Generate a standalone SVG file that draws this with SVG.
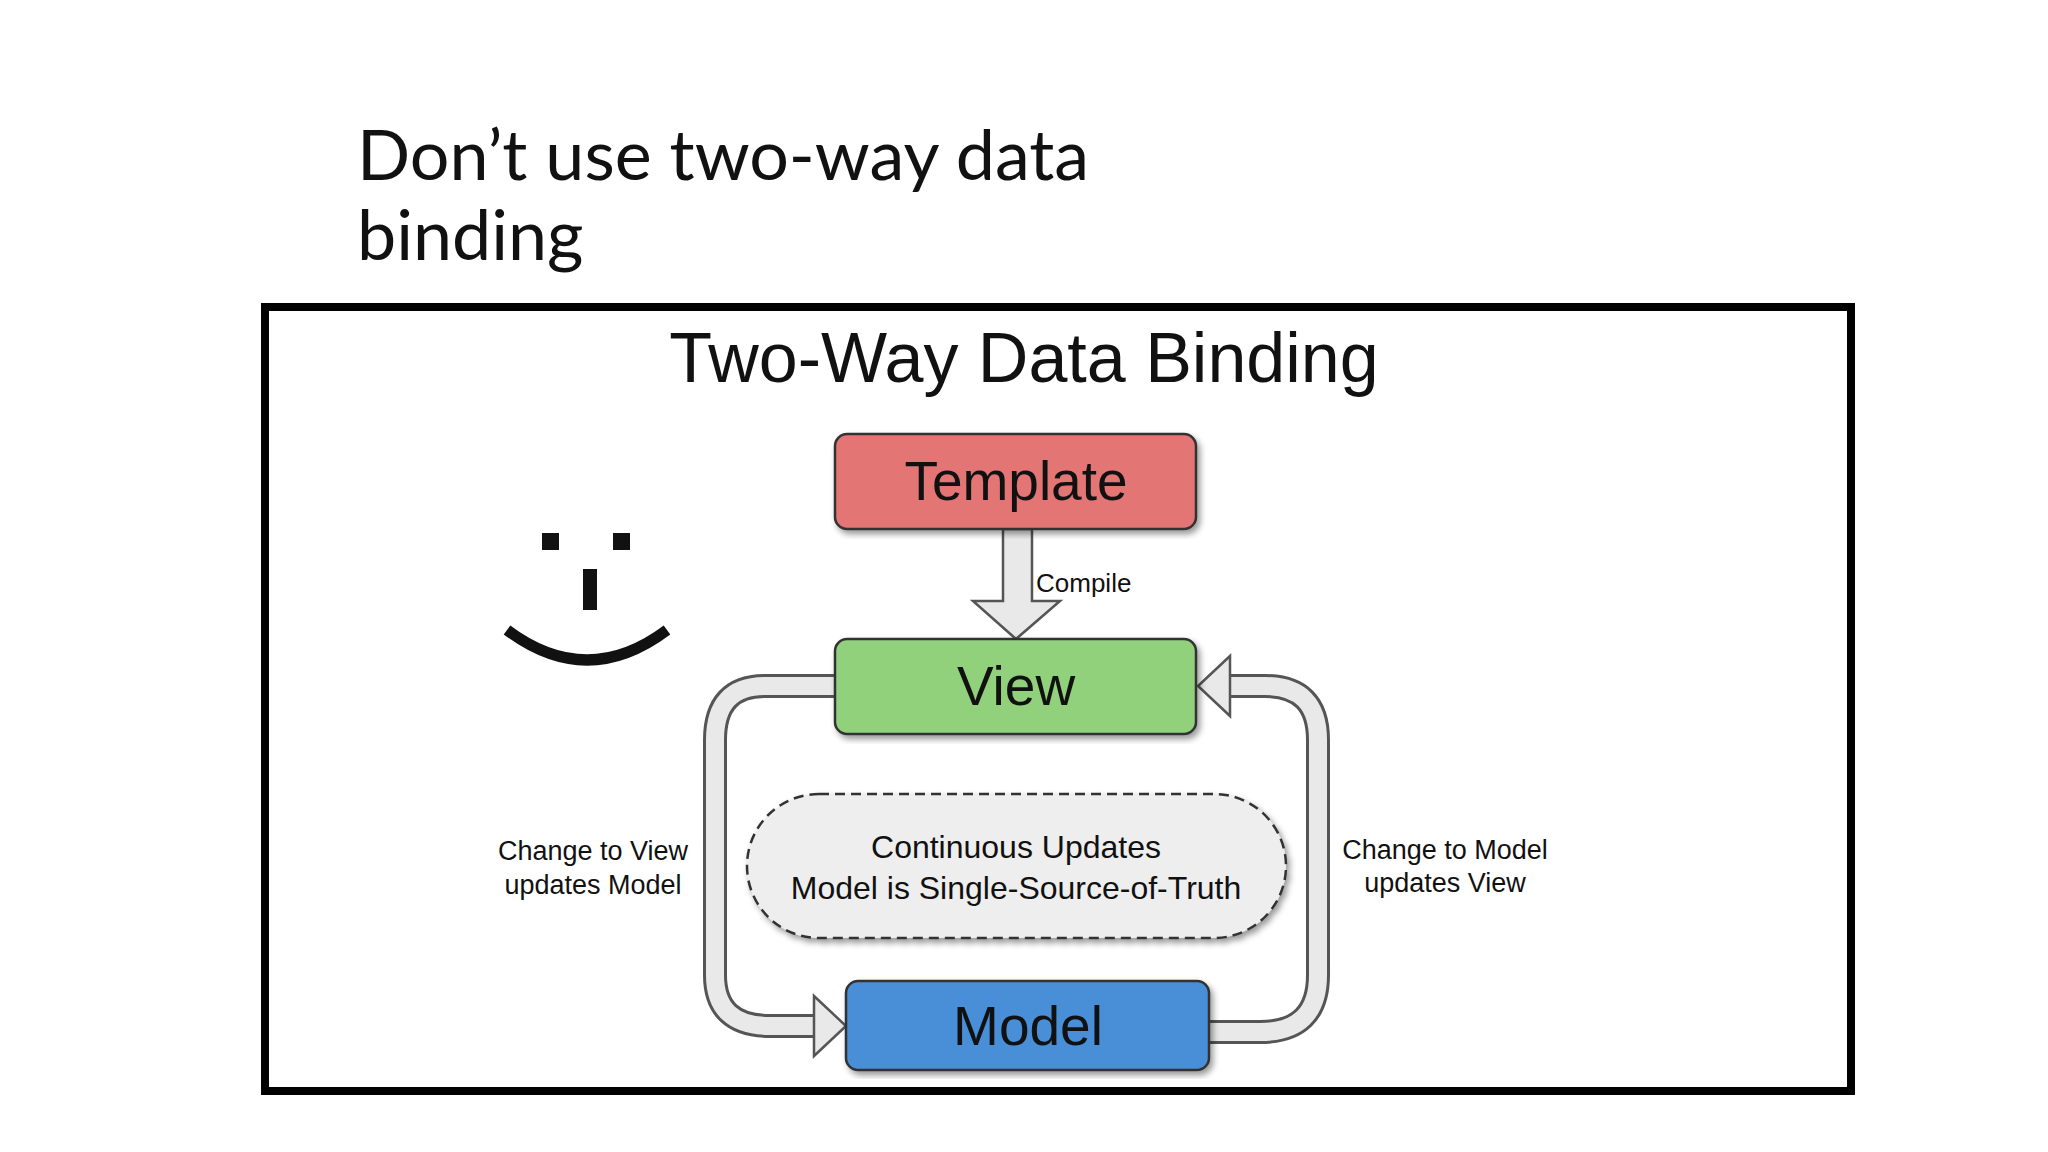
<svg xmlns="http://www.w3.org/2000/svg" width="2048" height="1152" viewBox="0 0 2048 1152">
<style>
.h{font-family:Lato,"Open Sans",sans-serif;font-size:70px;fill:#111}
.s{font-family:"Liberation Sans",Arial,sans-serif;fill:#111;text-anchor:middle}
.box{stroke:#333;stroke-width:2.5}
.pipeO{fill:none;stroke:#555;stroke-width:24}
.pipeI{fill:none;stroke:#e9e9e9;stroke-width:18}
.head{fill:#e9e9e9;stroke:#555;stroke-width:2.5}
</style>
<defs><filter id="sh"><feDropShadow dx="3" dy="4" stdDeviation="3" flood-opacity="0.4"/></filter></defs>
<rect width="2048" height="1152" fill="#fff"/>
<text class="h" x="357" y="180">Don’t use two-way data</text>
<text class="h" x="357" y="260">binding</text>
<rect x="265" y="307" width="1586" height="784" fill="#fff" stroke="#000" stroke-width="8"/>
<text class="s" x="1024" y="382" font-size="70">Two-Way Data Binding</text>
<g id="smiley" fill="#111">
<rect x="542" y="533" width="17" height="17"/><rect x="613" y="533" width="17" height="17"/>
<rect x="583" y="569" width="14" height="41"/>
<path d="M507,630 Q587,690 667,630" fill="none" stroke="#111" stroke-width="11"/>
</g>
<g id="connectors">
<path class="pipeO" d="M838,686 H765 Q715,686 715,740 V975 Q715,1026 770,1026 H820"/>
<path class="pipeI" d="M838,686 H765 Q715,686 715,740 V975 Q715,1026 770,1026 H822"/>
<polygon class="head" points="814,996 846,1026 814,1056"/>
<path class="pipeO" d="M1206,1032 H1260 Q1318,1032 1318,975 V740 Q1318,686 1265,686 H1224"/>
<path class="pipeI" d="M1206,1032 H1260 Q1318,1032 1318,975 V740 Q1318,686 1265,686 H1222"/>
<polygon class="head" points="1230,656 1198,686 1230,716"/>
<polygon class="head" points="1003,529 1032,529 1032,601 1060,601 1016,639 973,601 1003,601"/>
<text class="s" x="1036" y="592" font-size="26" style="text-anchor:start">Compile</text>
</g>
<g id="template"><rect class="box" x="835" y="434" width="361" height="95" rx="12" fill="#e37474" filter="url(#sh)"/><text class="s" x="1016" y="500" font-size="55">Template</text></g>
<g id="view"><rect class="box" x="835" y="639" width="361" height="95" rx="12" fill="#92d17c" filter="url(#sh)"/><text class="s" x="1016" y="705" font-size="55">View</text></g>
<g id="model"><rect class="box" x="846" y="981" width="363" height="89" rx="12" fill="#4a8fd8" filter="url(#sh)"/><text class="s" x="1028" y="1045" font-size="55">Model</text></g>
<g id="updates"><rect x="747" y="794" width="539" height="144" rx="72" fill="#eeeeee" stroke="#333" stroke-width="2.5" stroke-dasharray="10 6" filter="url(#sh)"/>
<text class="s" x="1016" y="858" font-size="32">Continuous Updates</text>
<text class="s" x="1016" y="899" font-size="32">Model is Single-Source-of-Truth</text></g>
<g id="labels">
<text class="s" x="593" y="860" font-size="27">Change to View</text>
<text class="s" x="593" y="894" font-size="27">updates Model</text>
<text class="s" x="1445" y="859" font-size="27">Change to Model</text>
<text class="s" x="1445" y="892" font-size="27">updates View</text>
</g>
</svg>
